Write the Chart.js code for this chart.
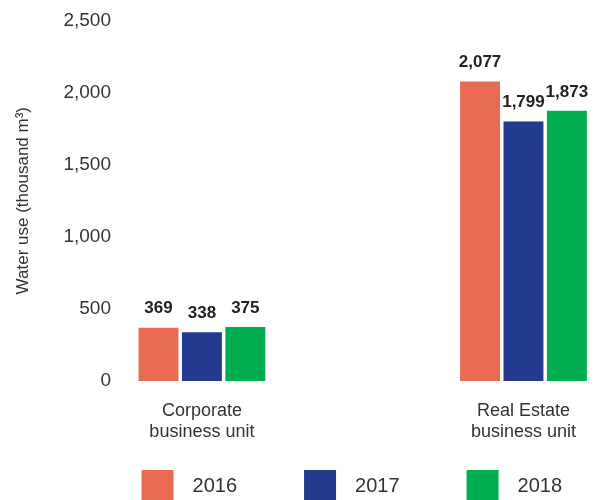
<!DOCTYPE html>
<html>
<head>
<meta charset="utf-8">
<script src="https://cdn.jsdelivr.net/npm/chart.js@4"></script>
<style>
  html, body { margin: 0; padding: 0; background: #fff; }
  #wrap { width: 596px; height: 500px; }
</style>
</head>
<body>
<div id="wrap"><canvas id="myChart"></canvas></div>
<script>
// chart data
const categories = [['Corporate', 'business unit'], ['Real Estate', 'business unit']];
const years = ['2016', '2017', '2018'];
const values2016 = [369, 2077];
const values2017 = [338, 1799];
const values2018 = [375, 1873];
const yTicks = [0, 500, 1000, 1500, 2000, 2500];
const colors = ['#E96A52', '#233B8F', '#00AE4F'];

const FONT = "'Liberation Sans', Arial, sans-serif";
const TEXT = '#333333';

// x range picked so the two groups sit where they do in the original
const X_MIN = -0.2547;
const X_MAX = 1.2236;

// legend squares, drawn on small canvases so the text sits further from the box
function makeIcon(color) {
  const c = document.createElement('canvas');
  c.width = 74;
  c.height = 32;
  const g = c.getContext('2d');
  g.fillStyle = color;
  g.fillRect(33, 0, 32, 32);
  return c;
}
const legendIcons = colors.map(makeIcon);

// value labels above bars
const barLabels = {
  id: 'barLabels',
  afterDatasetsDraw(chart) {
    const ctx = chart.ctx;
    ctx.save();
    ctx.font = 'bold 17px ' + FONT;
    ctx.fillStyle = '#222';
    ctx.textAlign = 'center';
    ctx.textBaseline = 'middle';
    chart.data.datasets.forEach((ds, i) => {
      chart.getDatasetMeta(i).data.forEach((bar, j) => {
        ctx.fillText(ds.data[j].y.toLocaleString('en-US'), bar.x, bar.y - 19);
      });
    });
    ctx.restore();
  }
};

const series = [values2016, values2017, values2018];

new Chart(document.getElementById('myChart'), {
  type: 'bar',
  data: {
    datasets: years.map((yr, i) => ({
      label: yr,
      data: series[i].map((v, j) => ({ x: j, y: v })),
      backgroundColor: colors[i],
      borderWidth: 0,
      categoryPercentage: 0.405,
      barPercentage: 0.92
    }))
  },
  options: {
    animation: false,
    responsive: true,
    maintainAspectRatio: false,
    layout: { padding: { top: 20, left: 0, right: 0, bottom: 0 } },
    scales: {
      x: {
        type: 'linear',
        bounds: 'data',
        offset: false,
        min: X_MIN,
        max: X_MAX,
        grid: { display: false, drawTicks: false },
        border: { display: false },
        afterBuildTicks: s => {
          s.ticks = categories.map((c, i) => ({ value: i }));
          s.min = X_MIN;
          s.max = X_MAX;
        },
        afterFit: s => { s.height = 61; },
        ticks: {
          padding: 20,
          color: TEXT,
          font: { family: FONT, size: 18, lineHeight: 1.15 },
          maxRotation: 0,
          callback: v => categories[v]
        }
      },
      y: {
        min: 0,
        max: 2500,
        grid: { display: false, drawTicks: false },
        border: { display: false },
        afterBuildTicks: s => { s.ticks = yTicks.map(v => ({ value: v })); },
        afterFit: s => { s.width = 120; },
        ticks: {
          padding: 9,
          color: TEXT,
          font: { family: FONT, size: 19 },
          callback: v => v.toLocaleString('en-US')
        },
        title: {
          display: true,
          text: 'Water use (thousand m³)',
          color: TEXT,
          font: { family: FONT, size: 17 },
          padding: { top: 13, bottom: 0 }
        }
      }
    },
    plugins: {
      tooltip: { enabled: false },
      legend: {
        position: 'bottom',
        align: 'end',
        maxHeight: 58,
        labels: {
          usePointStyle: true,
          pointStyleWidth: 74,
          padding: 34,
          color: TEXT,
          font: { family: FONT, size: 20 },
          generateLabels: chart =>
            Chart.defaults.plugins.legend.labels.generateLabels(chart)
              .map((item, i) => Object.assign(item, { pointStyle: legendIcons[i] }))
        }
      }
    }
  },
  plugins: [barLabels]
});
</script>
</body>
</html>
